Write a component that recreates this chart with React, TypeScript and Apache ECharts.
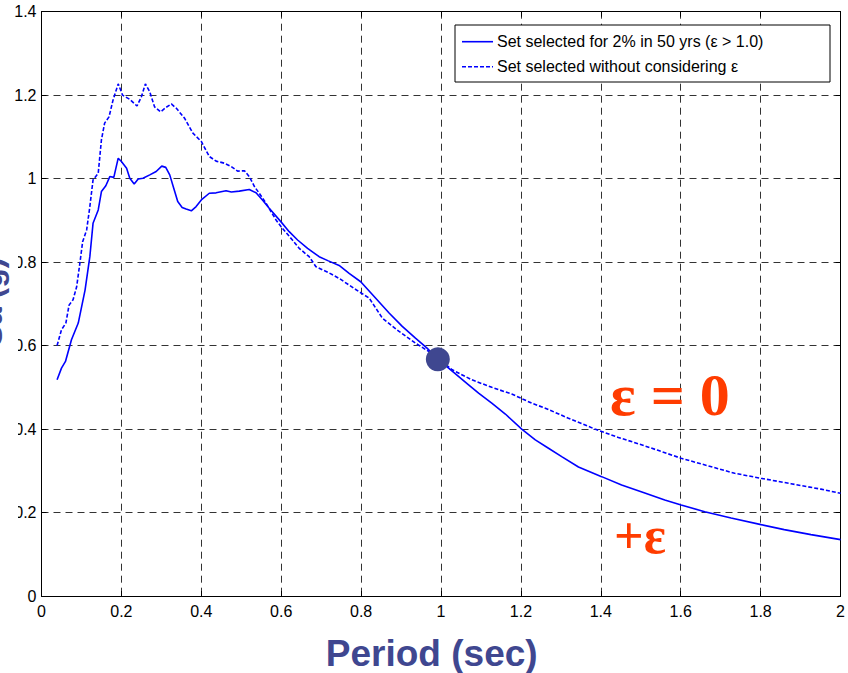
import React, { useEffect, useRef } from "react";
import * as echarts from "echarts";

// ---- Data ----
const solidPeriod = [
  0.039, 0.05, 0.06, 0.075, 0.092, 0.109, 0.121, 0.129, 0.142, 0.15, 0.161, 0.171, 0.181, 0.192, 0.2,
  0.213, 0.221, 0.232, 0.242, 0.254, 0.271, 0.287, 0.301, 0.311, 0.321, 0.331, 0.341, 0.352, 0.362,
  0.375, 0.387, 0.4, 0.42, 0.437, 0.462, 0.475, 0.495, 0.52, 0.537, 0.553, 0.57, 0.599, 0.62, 0.641,
  0.666, 0.695, 0.718, 0.745, 0.77, 0.799, 0.836, 0.87, 0.903, 0.936, 0.965, 0.992, 1.019, 1.069,
  1.094, 1.127, 1.161, 1.202, 1.236, 1.269, 1.302, 1.344, 1.402, 1.452, 1.51, 1.56, 1.601, 1.66, 1.726,
  1.801, 1.859, 1.926, 2.0,
];
const solidSa = [
  0.518, 0.546, 0.562, 0.614, 0.654, 0.733, 0.813, 0.893, 0.925, 0.969, 0.983, 1.005, 1.003, 1.049, 1.041,
  1.025, 1.001, 0.987, 0.999, 1.001, 1.009, 1.017, 1.03, 1.027, 1.009, 0.977, 0.945, 0.931, 0.927,
  0.923, 0.933, 0.949, 0.965, 0.966, 0.971, 0.968, 0.97, 0.974, 0.966, 0.949, 0.929, 0.897, 0.873, 0.853,
  0.833, 0.813, 0.803, 0.792, 0.773, 0.753, 0.714, 0.678, 0.646, 0.618, 0.594, 0.567, 0.546, 0.506,
  0.486, 0.462, 0.436, 0.4, 0.374, 0.354, 0.334, 0.309, 0.286, 0.266, 0.247, 0.23, 0.218, 0.202, 0.187,
  0.171, 0.159, 0.147, 0.135,
];
const dashedPeriod = [
  0.039, 0.05, 0.061, 0.069, 0.079, 0.088, 0.096, 0.103, 0.113, 0.121, 0.129, 0.142, 0.15, 0.158, 0.169,
  0.179, 0.192, 0.203, 0.221, 0.239, 0.25, 0.26, 0.271, 0.283, 0.298, 0.312, 0.325, 0.337, 0.358, 0.379,
  0.4, 0.42, 0.437, 0.458, 0.475, 0.491, 0.508, 0.52, 0.533, 0.545, 0.562, 0.587, 0.603, 0.628, 0.645,
  0.67, 0.687, 0.718, 0.745, 0.795, 0.82, 0.853, 0.895, 0.936, 0.969, 1.028, 1.077, 1.127, 1.177, 1.227,
  1.261, 1.319, 1.385, 1.444, 1.493, 1.543, 1.601, 1.668, 1.735, 1.801, 1.876, 1.951, 2.0,
];
const dashedSa = [
  0.6, 0.638, 0.654, 0.697, 0.71, 0.741, 0.797, 0.849, 0.877, 0.933, 0.997, 1.013, 1.093, 1.133, 1.148,
  1.188, 1.227, 1.2, 1.19, 1.174, 1.196, 1.227, 1.208, 1.172, 1.16, 1.171, 1.179, 1.169, 1.145, 1.109,
  1.089, 1.053, 1.042, 1.037, 1.029, 1.018, 1.019, 1.005, 0.981, 0.965, 0.941, 0.901, 0.881, 0.853, 0.833,
  0.813, 0.789, 0.775, 0.761, 0.729, 0.714, 0.666, 0.634, 0.606, 0.586, 0.542, 0.518, 0.5, 0.484, 0.462,
  0.45, 0.426, 0.4, 0.38, 0.365, 0.349, 0.33, 0.312, 0.294, 0.282, 0.269, 0.256, 0.246,
];
const markerPoint = [0.992, 0.567];
const legendLabels = [
  "Set selected for 2% in 50 yrs (\u03b5 > 1.0)",
  "Set selected without considering \u03b5",
];
const annotationZero = "\u03b5 = 0";
const annotationPlus = "+\u03b5";
const xAxisTitle = "Period (sec)";
const yAxisTitle = "Sa (g)";

const TITLE_COLOR = "#3F4790";
const LINE_COLOR = "#0000FF";
const ANNOT_COLOR = "#FF3C00";
const SANS = "'Liberation Sans', Arial, Helvetica, sans-serif";
const SERIF = "'Liberation Serif', 'Times New Roman', Times, serif";

export default function App() {
  const ref = useRef<HTMLDivElement>(null);

  useEffect(() => {
    if (!ref.current) return;
    const chart = echarts.init(ref.current, undefined, { renderer: "svg" });

    const solidData = solidPeriod.map((t, i) => [t, solidSa[i]]);
    const dashedData = dashedPeriod.map((t, i) => [t, dashedSa[i]]);

    const gridLine = { show: true, lineStyle: { color: "#333", type: [7, 5] as any, width: 1 } };
    const axisLine = { show: true, onZero: false, lineStyle: { color: "#000", width: 1 } };
    const axisTick = { show: true, inside: true, length: 5, lineStyle: { color: "#000" } };
    const label = { color: "#000", fontSize: 16, fontFamily: SANS };

    chart.setOption({
      animation: false,
      backgroundColor: "#fff",
      grid: { left: 41.5, top: 11.7, right: 5, bottom: 77, containLabel: false },
      xAxis: [
        {
          type: "value", min: 0, max: 2, interval: 0.2, position: "bottom",
          axisLine, axisTick, splitLine: gridLine,
          axisLabel: { ...label, margin: 7 },
        },
        {
          type: "value", min: 0, max: 2, interval: 0.2, position: "top",
          axisLine, axisTick, splitLine: { show: false }, axisLabel: { show: false },
        },
      ],
      yAxis: [
        {
          type: "value", min: 0, max: 1.4, interval: 0.2, position: "left",
          axisLine, axisTick, splitLine: gridLine,
          axisLabel: { ...label, margin: 5 },
        },
        {
          type: "value", min: 0, max: 1.4, interval: 0.2, position: "right",
          axisLine, axisTick, splitLine: { show: false }, axisLabel: { show: false },
        },
      ],
      series: [
        {
          type: "line", name: legendLabels[0], data: solidData, showSymbol: false,
          lineStyle: { color: LINE_COLOR, width: 1.6 }, z: 3,
        },
        {
          type: "line", name: legendLabels[1], data: dashedData, showSymbol: false,
          lineStyle: { color: LINE_COLOR, width: 1.6, type: [4, 2] as any }, z: 3,
        },
        {
          type: "scatter", data: [markerPoint], symbolSize: 24,
          itemStyle: { color: TITLE_COLOR, opacity: 1 }, z: 5,
        },
      ],
      graphic: [
        // white patch that hides part of the y tick labels (as in the reference)
        { type: "rect", left: 0, top: 252, shape: { width: 18, height: 272 }, style: { fill: "#fff" }, z: 10 },
        {
          type: "text", x: 7, y: 302, rotation: Math.PI / 2, z: 11,
          style: {
            text: yAxisTitle, fill: TITLE_COLOR, font: `bold 32px ${SANS}`,
            align: "center", verticalAlign: "bottom",
          },
        },
        {
          type: "text", x: 431.7, y: 653, z: 11,
          style: {
            text: xAxisTitle, fill: TITLE_COLOR, font: `bold 37px ${SANS}`,
            align: "center", verticalAlign: "middle",
          },
        },
        // legend box
        {
          type: "rect", shape: { x: 455, y: 25, width: 375, height: 57 },
          style: { fill: "#fff", stroke: "#000", lineWidth: 1 }, z: 10,
        },
        {
          type: "line", shape: { x1: 462, y1: 41.7, x2: 493, y2: 41.7 },
          style: { stroke: LINE_COLOR, lineWidth: 1.6 }, z: 11,
        },
        {
          type: "line", shape: { x1: 462, y1: 66.7, x2: 493, y2: 66.7 },
          style: { stroke: LINE_COLOR, lineWidth: 1.6, lineDash: [4, 2] }, z: 11,
        },
        {
          type: "text", x: 497, y: 41.7, z: 11,
          style: { text: legendLabels[0], fill: "#000", font: `16px ${SANS}`, verticalAlign: "middle" },
        },
        {
          type: "text", x: 497, y: 66.7, z: 11,
          style: { text: legendLabels[1], fill: "#000", font: `16px ${SANS}`, verticalAlign: "middle" },
        },
        // annotations
        {
          type: "text", x: 610, y: 395, z: 11,
          style: { text: annotationZero, fill: ANNOT_COLOR, font: `bold 60px ${SERIF}`, verticalAlign: "middle" },
        },
        {
          type: "text", x: 614, y: 535, z: 11,
          style: { text: annotationPlus, fill: ANNOT_COLOR, font: `bold 52px ${SERIF}`, verticalAlign: "middle" },
        },
      ],
    });

    return () => chart.dispose();
  }, []);

  return (
    <div
      ref={ref}
      style={{ position: "fixed", left: 0, top: 0, width: 848, height: 673, background: "#fff" }}
    />
  );
}
